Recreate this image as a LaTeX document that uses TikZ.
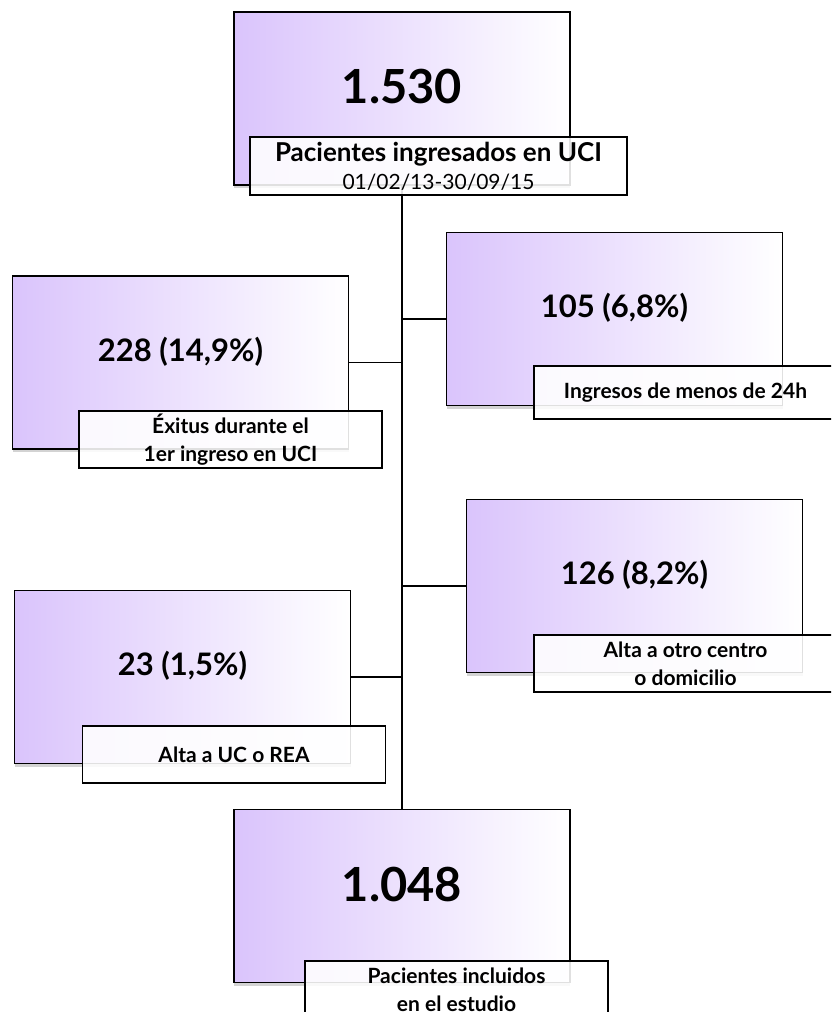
\documentclass[tikz,border=0pt]{standalone}
\usepackage{fontspec}
\setmainfont{Lato}
\usetikzlibrary{positioning, shadows}
\definecolor{boxpurple}{RGB}{218,196,252}

\begin{document}
\begin{tikzpicture}[x=1pt, y=-1pt,
  bigbox/.style={draw=black, line width=1.6pt, minimum width=336pt, minimum height=173pt,
    left color=boxpurple, right color=white,
    drop shadow={shadow xshift=0pt, shadow yshift=-3pt, opacity=0.35}},
  labelbox/.style={draw=black, line width=1.3pt, fill=white, fill opacity=0.88, text opacity=1,
    minimum width=303pt, minimum height=57pt, inner sep=1pt, align=center,
    font=\fontsize{21}{28}\selectfont\bfseries},
  hugenum/.style={font=\fontsize{47}{56}\selectfont\bfseries},
  bignum/.style={font=\fontsize{31}{37}\selectfont\bfseries},
  link/.style={draw=black, line width=1.3pt}]
\clip (0,0) rectangle (831,1012);

% Boxes with the counts
\node[bigbox] (total)  at (402,98.5)  {};
\node[bigbox] (exitus) at (180.5,362.5) {};
\node[bigbox] (corto)  at (614.5,319) {};
\node[bigbox] (otro)   at (634.5,586) {};
\node[bigbox] (rea)    at (182.5,677) {};
\node[bigbox] (final)  at (402,896)   {};

\node[hugenum] (totaln)  at ([yshift=12pt]total.center)  {1.530};
\node[bignum]  (exitusn) at ([yshift=11pt]exitus.center) {228 (14,9\%)};
\node[bignum]  (corton)  at ([yshift=11pt]corto.center)  {105 (6,8\%)};
\node[bignum]  (otron)   at ([yshift=11pt]otro.center)   {126 (8,2\%)};
\node[bignum]  (rean)    at ([yshift=11pt]rea.center)    {23 (1,5\%)};
\node[hugenum] (finaln)  at ([yshift=12pt]final.center)  {1.048};

% Flow line
\draw[link, line width=1.8pt] (total.south) -- (final.north);
\draw[link] (exitus.east) -- (exitus.east -| total.south);
\draw[link] (corto.west)  -- (corto.west -| total.south);
\draw[link] (otro.west)   -- (otro.west -| total.south);
\draw[link] (rea.east)    -- (rea.east -| total.south);

% Captions
\node[labelbox, minimum width=377pt, minimum height=58pt, font=\fontsize{26}{28}\selectfont\bfseries]
  (totall) at (438.5,166) {Pacientes ingresados en UCI\\{\fontsize{21}{28}\selectfont\mdseries 01/02/13-30/09/15}};
\node[labelbox] (exitusl) at (230.5,439.5) {Éxitus durante el\\1er ingreso en UCI};
\node[labelbox, minimum height=53pt] (cortol) at (685.5,392.5) {Ingresos de menos de 24h};
\node[labelbox] (otrol) at (685.5,663.5) {Alta a otro centro\\o domicilio};
\node[labelbox] (real)  at (234,754.5)   {Alta a UC o REA};
\node[labelbox] (finall) at (456.5,989.5) {Pacientes incluidos\\en el estudio};
\end{tikzpicture}
\end{document}
